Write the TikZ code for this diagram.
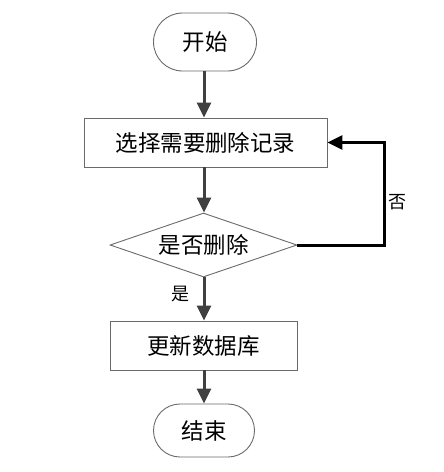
\documentclass[tikz,border=0pt]{standalone}
\usepackage{fontspec}
\newfontfamily\cjk{Noto Sans CJK SC}
\usetikzlibrary{shapes.geometric,shapes.misc,arrows.meta}
\definecolor{boxline}{HTML}{6A6A6A}
\definecolor{arrowcol}{HTML}{404040}
\begin{document}
\begin{tikzpicture}[x=1pt,y=-1pt,
  every node/.style={font=\cjk\fontsize{22.5}{26}\selectfont, text=black},
  term/.style={rounded rectangle, draw=boxline, line width=0.9pt, inner sep=0pt},
  procbox/.style={rectangle, draw=boxline, line width=0.9pt, inner sep=0pt},
  decide/.style={diamond, draw=boxline, line width=0.9pt, inner sep=0pt, aspect=2.9},
  flow/.style={draw=arrowcol, line width=3pt, -{Triangle[length=15pt,width=14pt]}},
  loopline/.style={draw=black, line width=3pt, -{Triangle[length=15pt,width=14pt]}},
  lbl/.style={font=\cjk\fontsize{18}{20}\selectfont}]
\useasboundingbox (0,0) rectangle (444,472);
\node[term, minimum width=103pt, minimum height=58pt] (start) at (205,42) {开始};
\node[procbox, minimum width=243pt, minimum height=49pt] (s1) at (205.5,142.5) {选择需要删除记录};
\node[decide, minimum width=187pt, minimum height=64pt] (dec) at (203.5,245) {是否删除};
\node[procbox, minimum width=187pt, minimum height=49pt] (s2) at (203.5,345.5) {更新数据库};
\node[term, minimum width=101pt, minimum height=53pt] (stop) at (204,430.5) {结束};
\coordinate (cx) at (204,0);
\coordinate (loopc) at (384,0);
\draw[flow] (cx |- start.south) -- (cx |- s1.north);
\draw[flow] (cx |- s1.south) -- (cx |- dec.north);
\draw[flow] (cx |- dec.south) -- (cx |- s2.north);
\draw[flow] (cx |- s2.south) -- (cx |- stop.north);
\draw[loopline, line join=miter] (dec.east) -- (loopc |- dec.east) -- (loopc |- s1.east) -- (s1.east);
\node[lbl] (no) at (397,202) {否};
\node[lbl] (yes) at (180,294) {是};
\end{tikzpicture}
\end{document}
